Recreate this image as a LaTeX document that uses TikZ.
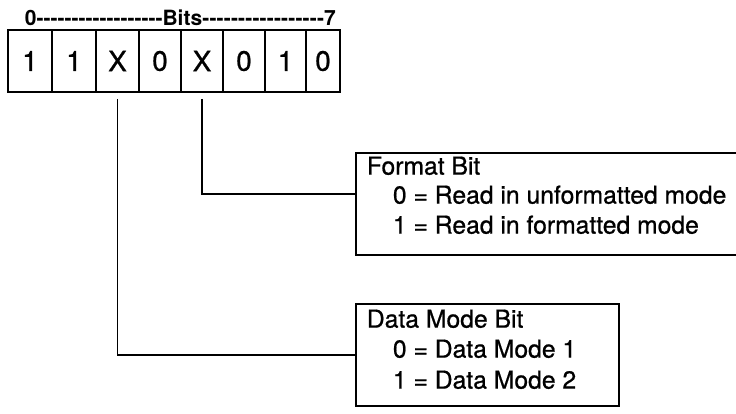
\documentclass[tikz,border=0pt]{standalone}
\usepackage{fontspec}
\setmainfont{TeX Gyre Heros}
\newfontfamily\medfont[FakeBold=0.8]{TeX Gyre Heros}
\begin{document}
\begin{tikzpicture}[x=1pt,y=-1pt,line width=1.8pt,
  bitcell/.style={draw, minimum height=62pt, inner sep=0pt, font=\medfont\fontsize{28}{28}\selectfont},
  infobox/.style={draw, rectangle, anchor=north west, inner sep=0pt, minimum height=102pt},
  boxtext/.style={anchor=mid west, inner sep=0pt, font=\medfont\fontsize{24.7}{28}\selectfont},
  conn/.style={line width=1.6pt}]
\clip (0,0) rectangle (736,414);
\useasboundingbox (0,0) rectangle (736,414);
% header
\node[anchor=base west, inner sep=0pt, font=\bfseries\fontsize{21}{21}\selectfont] (hdr) at (24,26)
  {0\hbox to 126pt{\xleaders\hbox{-}\hfill}Bits\hbox to 122pt{\xleaders\hbox{-}\hfill}7};
% bit cells
\foreach \i/\a/\b/\t in {0/8/52/1, 1/52/96/1, 2/96/139/X, 3/139/181/0, 4/181/223/X, 5/223/265/0, 6/265/306/1, 7/306/340/0}{
  \pgfmathsetmacro{\w}{\b-\a}
  \pgfmathsetmacro{\c}{(\a+\b)/2}
  \node[bitcell, minimum width=\w pt] (b\i) at (\c,61) {\t};
}
% format box
\node[infobox, minimum width=400pt] (fmt) at (355,152) {};
\node[boxtext] (f1) at (366,172) {Format Bit};
\node[boxtext] (f2) at (392,201) {0 = Read in unformatted mode};
\node[boxtext] (f3) at (392,231) {1 = Read in formatted mode};
% data mode box
\node[infobox, minimum width=263pt] (dat) at (355,303) {};
\node[boxtext] (d1) at (366,325) {Data Mode Bit};
\node[boxtext] (d2) at (392,355) {0 = Data Mode 1};
\node[boxtext] (d3) at (392,386) {1 = Data Mode 2};
% connectors
\draw[conn] ([yshift=-6pt]b2.south) |- (dat.west);
\draw[conn] ([yshift=-6pt]b4.south) |- ([yshift=10pt]fmt.west);
\end{tikzpicture}
\end{document}
